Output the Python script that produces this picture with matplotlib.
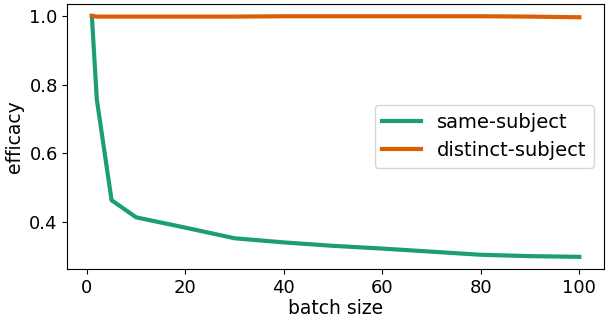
import matplotlib.pyplot as plt

# batch sizes and efficacy values
batch = [1, 2, 5, 10, 20, 30, 40, 50, 60, 70, 80, 90, 100]
same_subject = [1.0, 0.757, 0.463, 0.413, 0.383, 0.352, 0.340, 0.330, 0.322, 0.313, 0.304, 0.300, 0.298]
distinct_subject = [1.0, 0.998, 0.998, 0.998, 0.998, 0.998, 0.999, 0.999, 0.999, 0.999, 0.999, 0.998, 0.996]

fig, ax = plt.subplots(figsize=(6.08, 3.22), dpi=100)
ax.plot(batch, same_subject, color="#1b9e77", linewidth=3, label="same-subject")
ax.plot(batch, distinct_subject, color="#d95f02", linewidth=3, label="distinct-subject")
ax.set_xlabel("batch size", fontsize=13.5, labelpad=2)
ax.set_ylabel("efficacy", fontsize=13.5, labelpad=4)
ax.set_xticks([0, 20, 40, 60, 80, 100])
ax.set_yticks([0.4, 0.6, 0.8, 1.0])
ax.tick_params(labelsize=13)
ax.legend(loc="center right", fontsize=14)
fig.subplots_adjust(left=0.111, right=0.993, top=0.988, bottom=0.165)
fig.savefig("out.png")
